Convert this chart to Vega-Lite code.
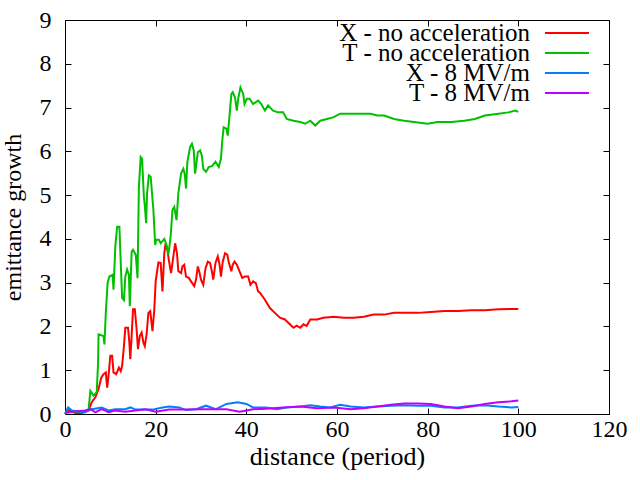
{
  "$schema": "https://vega.github.io/schema/vega-lite/v6.json",
  "width": 544,
  "height": 394,
  "autosize": "none",
  "padding": {"left": 65, "top": 20, "right": 31, "bottom": 66},
  "background": "white",
  "config": {
    "font": "Liberation Serif",
    "view": {"stroke": "#000000", "strokeWidth": 1},
    "axis": {
      "domain": false,
      "grid": false,
      "ticks": true,
      "tickColor": "#000000",
      "tickSize": 6,
      "tickWidth": 1,
      "offset": -6,
      "labelFlush": false,
      "labelFont": "Liberation Serif",
      "labelFontSize": 24,
      "labelColor": "#000000",
      "titleFont": "Liberation Serif",
      "titleFontWeight": "normal",
      "titleColor": "#000000"
    },
    "legend": {
      "orient": "none",
      "padding": 0,
      "direction": "vertical",
      "symbolType": "stroke",
      "symbolSize": 1936,
      "symbolStrokeWidth": 2,
      "labelAlign": "right",
      "labelOffset": -60,
      "labelFont": "Liberation Serif",
      "labelFontSize": 25,
      "labelColor": "#000000",
      "labelLimit": 0
    }
  },
  "data": {
    "values": [
      {"series": "X - no acceleration", "x": 0, "y": 0.0},
      {"series": "X - no acceleration", "x": 1, "y": 0.1},
      {"series": "X - no acceleration", "x": 1.5, "y": 0.05},
      {"series": "X - no acceleration", "x": 2.5, "y": 0.02},
      {"series": "X - no acceleration", "x": 4, "y": 0.03},
      {"series": "X - no acceleration", "x": 5.2, "y": 0.08},
      {"series": "X - no acceleration", "x": 5.9, "y": 0.27},
      {"series": "X - no acceleration", "x": 6.7, "y": 0.38},
      {"series": "X - no acceleration", "x": 7.4, "y": 0.57},
      {"series": "X - no acceleration", "x": 8.0, "y": 0.83},
      {"series": "X - no acceleration", "x": 8.5, "y": 0.91},
      {"series": "X - no acceleration", "x": 9.0, "y": 0.95},
      {"series": "X - no acceleration", "x": 9.3, "y": 0.6},
      {"series": "X - no acceleration", "x": 9.6, "y": 0.87},
      {"series": "X - no acceleration", "x": 10.0, "y": 1.33},
      {"series": "X - no acceleration", "x": 10.4, "y": 1.33},
      {"series": "X - no acceleration", "x": 10.7, "y": 0.95},
      {"series": "X - no acceleration", "x": 11.3, "y": 0.91},
      {"series": "X - no acceleration", "x": 11.9, "y": 1.06},
      {"series": "X - no acceleration", "x": 12.3, "y": 0.98},
      {"series": "X - no acceleration", "x": 12.6, "y": 1.1},
      {"series": "X - no acceleration", "x": 13.0, "y": 1.55},
      {"series": "X - no acceleration", "x": 13.3, "y": 1.97},
      {"series": "X - no acceleration", "x": 13.9, "y": 1.97},
      {"series": "X - no acceleration", "x": 14.2, "y": 1.63},
      {"series": "X - no acceleration", "x": 14.4, "y": 1.25},
      {"series": "X - no acceleration", "x": 14.7, "y": 1.78},
      {"series": "X - no acceleration", "x": 15.0, "y": 2.39},
      {"series": "X - no acceleration", "x": 15.4, "y": 2.39},
      {"series": "X - no acceleration", "x": 15.8, "y": 1.93},
      {"series": "X - no acceleration", "x": 16.1, "y": 1.48},
      {"series": "X - no acceleration", "x": 16.5, "y": 1.78},
      {"series": "X - no acceleration", "x": 16.9, "y": 1.86},
      {"series": "X - no acceleration", "x": 17.3, "y": 1.63},
      {"series": "X - no acceleration", "x": 17.6, "y": 1.55},
      {"series": "X - no acceleration", "x": 18.0, "y": 1.82},
      {"series": "X - no acceleration", "x": 18.4, "y": 2.31},
      {"series": "X - no acceleration", "x": 18.8, "y": 2.35},
      {"series": "X - no acceleration", "x": 19.3, "y": 1.89},
      {"series": "X - no acceleration", "x": 19.7, "y": 2.39},
      {"series": "X - no acceleration", "x": 20.0, "y": 3.03},
      {"series": "X - no acceleration", "x": 20.6, "y": 3.46},
      {"series": "X - no acceleration", "x": 21.1, "y": 3.45},
      {"series": "X - no acceleration", "x": 21.5, "y": 2.8},
      {"series": "X - no acceleration", "x": 21.9, "y": 3.67},
      {"series": "X - no acceleration", "x": 22.2, "y": 3.9},
      {"series": "X - no acceleration", "x": 22.6, "y": 3.75},
      {"series": "X - no acceleration", "x": 22.9, "y": 3.52},
      {"series": "X - no acceleration", "x": 23.4, "y": 3.22},
      {"series": "X - no acceleration", "x": 23.9, "y": 3.6},
      {"series": "X - no acceleration", "x": 24.3, "y": 3.9},
      {"series": "X - no acceleration", "x": 24.7, "y": 3.67},
      {"series": "X - no acceleration", "x": 25.0, "y": 3.26},
      {"series": "X - no acceleration", "x": 25.6, "y": 3.22},
      {"series": "X - no acceleration", "x": 25.9, "y": 3.37},
      {"series": "X - no acceleration", "x": 26.3, "y": 3.41},
      {"series": "X - no acceleration", "x": 26.7, "y": 3.14},
      {"series": "X - no acceleration", "x": 27.3, "y": 3.11},
      {"series": "X - no acceleration", "x": 27.8, "y": 3.03},
      {"series": "X - no acceleration", "x": 28.5, "y": 2.92},
      {"series": "X - no acceleration", "x": 28.9, "y": 3.07},
      {"series": "X - no acceleration", "x": 29.3, "y": 3.37},
      {"series": "X - no acceleration", "x": 29.6, "y": 3.26},
      {"series": "X - no acceleration", "x": 30.0, "y": 3.07},
      {"series": "X - no acceleration", "x": 30.5, "y": 2.95},
      {"series": "X - no acceleration", "x": 31.0, "y": 3.33},
      {"series": "X - no acceleration", "x": 31.5, "y": 3.48},
      {"series": "X - no acceleration", "x": 32.0, "y": 3.45},
      {"series": "X - no acceleration", "x": 32.4, "y": 3.26},
      {"series": "X - no acceleration", "x": 32.7, "y": 3.07},
      {"series": "X - no acceleration", "x": 33.2, "y": 3.45},
      {"series": "X - no acceleration", "x": 33.7, "y": 3.6},
      {"series": "X - no acceleration", "x": 34.1, "y": 3.41},
      {"series": "X - no acceleration", "x": 34.4, "y": 3.14},
      {"series": "X - no acceleration", "x": 34.8, "y": 3.48},
      {"series": "X - no acceleration", "x": 35.3, "y": 3.67},
      {"series": "X - no acceleration", "x": 35.8, "y": 3.64},
      {"series": "X - no acceleration", "x": 36.1, "y": 3.48},
      {"series": "X - no acceleration", "x": 36.7, "y": 3.26},
      {"series": "X - no acceleration", "x": 37.0, "y": 3.41},
      {"series": "X - no acceleration", "x": 37.4, "y": 3.48},
      {"series": "X - no acceleration", "x": 37.9, "y": 3.41},
      {"series": "X - no acceleration", "x": 38.5, "y": 3.26},
      {"series": "X - no acceleration", "x": 39.1, "y": 3.11},
      {"series": "X - no acceleration", "x": 39.7, "y": 3.14},
      {"series": "X - no acceleration", "x": 40.4, "y": 3.14},
      {"series": "X - no acceleration", "x": 40.9, "y": 2.95},
      {"series": "X - no acceleration", "x": 41.5, "y": 3.03},
      {"series": "X - no acceleration", "x": 42.1, "y": 2.99},
      {"series": "X - no acceleration", "x": 42.6, "y": 2.8},
      {"series": "X - no acceleration", "x": 43.0, "y": 2.77},
      {"series": "X - no acceleration", "x": 44.1, "y": 2.61},
      {"series": "X - no acceleration", "x": 45.2, "y": 2.42},
      {"series": "X - no acceleration", "x": 46.3, "y": 2.31},
      {"series": "X - no acceleration", "x": 47.4, "y": 2.2},
      {"series": "X - no acceleration", "x": 48.5, "y": 2.16},
      {"series": "X - no acceleration", "x": 49.6, "y": 2.05},
      {"series": "X - no acceleration", "x": 50.4, "y": 1.97},
      {"series": "X - no acceleration", "x": 51.1, "y": 2.02},
      {"series": "X - no acceleration", "x": 51.9, "y": 1.97},
      {"series": "X - no acceleration", "x": 52.6, "y": 2.05},
      {"series": "X - no acceleration", "x": 53.3, "y": 2.01},
      {"series": "X - no acceleration", "x": 54.1, "y": 2.16},
      {"series": "X - no acceleration", "x": 55.6, "y": 2.16},
      {"series": "X - no acceleration", "x": 57.0, "y": 2.2},
      {"series": "X - no acceleration", "x": 59.3, "y": 2.22},
      {"series": "X - no acceleration", "x": 61.5, "y": 2.2},
      {"series": "X - no acceleration", "x": 63.7, "y": 2.2},
      {"series": "X - no acceleration", "x": 65.9, "y": 2.22},
      {"series": "X - no acceleration", "x": 68.1, "y": 2.27},
      {"series": "X - no acceleration", "x": 70.4, "y": 2.27},
      {"series": "X - no acceleration", "x": 72.6, "y": 2.31},
      {"series": "X - no acceleration", "x": 74.8, "y": 2.31},
      {"series": "X - no acceleration", "x": 77.8, "y": 2.31},
      {"series": "X - no acceleration", "x": 80.7, "y": 2.33},
      {"series": "X - no acceleration", "x": 83.7, "y": 2.35},
      {"series": "X - no acceleration", "x": 86.7, "y": 2.35},
      {"series": "X - no acceleration", "x": 89.6, "y": 2.37},
      {"series": "X - no acceleration", "x": 92.6, "y": 2.37},
      {"series": "X - no acceleration", "x": 95.6, "y": 2.39},
      {"series": "X - no acceleration", "x": 98.5, "y": 2.4},
      {"series": "X - no acceleration", "x": 100, "y": 2.4},
      {"series": "T - no acceleration", "x": 0, "y": 0.02},
      {"series": "T - no acceleration", "x": 2, "y": 0.05},
      {"series": "T - no acceleration", "x": 4, "y": 0.05},
      {"series": "T - no acceleration", "x": 5.2, "y": 0.1},
      {"series": "T - no acceleration", "x": 5.6, "y": 0.53},
      {"series": "T - no acceleration", "x": 6.3, "y": 0.42},
      {"series": "T - no acceleration", "x": 7.0, "y": 0.5},
      {"series": "T - no acceleration", "x": 7.3, "y": 1.17},
      {"series": "T - no acceleration", "x": 7.4, "y": 1.82},
      {"series": "T - no acceleration", "x": 8.5, "y": 1.78},
      {"series": "T - no acceleration", "x": 8.7, "y": 1.59},
      {"series": "T - no acceleration", "x": 9.0, "y": 2.31},
      {"series": "T - no acceleration", "x": 9.4, "y": 3.0},
      {"series": "T - no acceleration", "x": 9.8, "y": 3.14},
      {"series": "T - no acceleration", "x": 10.5, "y": 3.18},
      {"series": "T - no acceleration", "x": 10.7, "y": 2.84},
      {"series": "T - no acceleration", "x": 11.1, "y": 3.83},
      {"series": "T - no acceleration", "x": 11.5, "y": 4.28},
      {"series": "T - no acceleration", "x": 12.0, "y": 4.28},
      {"series": "T - no acceleration", "x": 12.3, "y": 3.45},
      {"series": "T - no acceleration", "x": 12.6, "y": 2.65},
      {"series": "T - no acceleration", "x": 13.0, "y": 2.6},
      {"series": "T - no acceleration", "x": 13.3, "y": 3.14},
      {"series": "T - no acceleration", "x": 13.7, "y": 3.3},
      {"series": "T - no acceleration", "x": 14.1, "y": 3.18},
      {"series": "T - no acceleration", "x": 14.3, "y": 2.46},
      {"series": "T - no acceleration", "x": 14.7, "y": 3.71},
      {"series": "T - no acceleration", "x": 15.0, "y": 3.75},
      {"series": "T - no acceleration", "x": 15.6, "y": 3.64},
      {"series": "T - no acceleration", "x": 16.0, "y": 3.1},
      {"series": "T - no acceleration", "x": 16.3, "y": 5.19},
      {"series": "T - no acceleration", "x": 16.7, "y": 5.87},
      {"series": "T - no acceleration", "x": 17.0, "y": 5.83},
      {"series": "T - no acceleration", "x": 17.4, "y": 4.96},
      {"series": "T - no acceleration", "x": 17.6, "y": 4.77},
      {"series": "T - no acceleration", "x": 17.9, "y": 4.36},
      {"series": "T - no acceleration", "x": 18.1, "y": 5.04},
      {"series": "T - no acceleration", "x": 18.5, "y": 5.45},
      {"series": "T - no acceleration", "x": 18.9, "y": 5.42},
      {"series": "T - no acceleration", "x": 19.5, "y": 4.66},
      {"series": "T - no acceleration", "x": 19.9, "y": 3.86},
      {"series": "T - no acceleration", "x": 20.1, "y": 3.98},
      {"series": "T - no acceleration", "x": 20.7, "y": 3.98},
      {"series": "T - no acceleration", "x": 21.1, "y": 3.9},
      {"series": "T - no acceleration", "x": 21.9, "y": 4.0},
      {"series": "T - no acceleration", "x": 22.4, "y": 3.86},
      {"series": "T - no acceleration", "x": 22.8, "y": 3.64},
      {"series": "T - no acceleration", "x": 23.3, "y": 4.05},
      {"series": "T - no acceleration", "x": 23.7, "y": 4.66},
      {"series": "T - no acceleration", "x": 24.1, "y": 4.73},
      {"series": "T - no acceleration", "x": 24.6, "y": 4.43},
      {"series": "T - no acceleration", "x": 25.0, "y": 5.04},
      {"series": "T - no acceleration", "x": 25.6, "y": 5.49},
      {"series": "T - no acceleration", "x": 26.1, "y": 5.6},
      {"series": "T - no acceleration", "x": 26.4, "y": 5.49},
      {"series": "T - no acceleration", "x": 26.7, "y": 5.15},
      {"series": "T - no acceleration", "x": 27.0, "y": 5.76},
      {"series": "T - no acceleration", "x": 27.6, "y": 6.1},
      {"series": "T - no acceleration", "x": 28.0, "y": 6.17},
      {"series": "T - no acceleration", "x": 28.4, "y": 6.02},
      {"series": "T - no acceleration", "x": 28.7, "y": 5.49},
      {"series": "T - no acceleration", "x": 29.3, "y": 5.98},
      {"series": "T - no acceleration", "x": 29.8, "y": 6.02},
      {"series": "T - no acceleration", "x": 30.2, "y": 5.9},
      {"series": "T - no acceleration", "x": 30.5, "y": 5.6},
      {"series": "T - no acceleration", "x": 31.1, "y": 5.53},
      {"series": "T - no acceleration", "x": 31.7, "y": 5.64},
      {"series": "T - no acceleration", "x": 32.4, "y": 5.66},
      {"series": "T - no acceleration", "x": 33.2, "y": 5.76},
      {"series": "T - no acceleration", "x": 33.9, "y": 5.64},
      {"series": "T - no acceleration", "x": 34.4, "y": 5.83},
      {"series": "T - no acceleration", "x": 34.7, "y": 6.25},
      {"series": "T - no acceleration", "x": 35.0, "y": 6.55},
      {"series": "T - no acceleration", "x": 35.6, "y": 6.52},
      {"series": "T - no acceleration", "x": 35.9, "y": 6.36},
      {"series": "T - no acceleration", "x": 36.3, "y": 6.82},
      {"series": "T - no acceleration", "x": 36.7, "y": 7.31},
      {"series": "T - no acceleration", "x": 37.0, "y": 7.35},
      {"series": "T - no acceleration", "x": 37.5, "y": 7.23},
      {"series": "T - no acceleration", "x": 37.9, "y": 6.93},
      {"series": "T - no acceleration", "x": 38.2, "y": 7.2},
      {"series": "T - no acceleration", "x": 38.7, "y": 7.46},
      {"series": "T - no acceleration", "x": 39.3, "y": 7.31},
      {"series": "T - no acceleration", "x": 39.6, "y": 7.08},
      {"series": "T - no acceleration", "x": 40.1, "y": 7.2},
      {"series": "T - no acceleration", "x": 40.7, "y": 7.2},
      {"series": "T - no acceleration", "x": 41.5, "y": 7.08},
      {"series": "T - no acceleration", "x": 42.6, "y": 7.16},
      {"series": "T - no acceleration", "x": 43.3, "y": 7.08},
      {"series": "T - no acceleration", "x": 44.1, "y": 6.93},
      {"series": "T - no acceleration", "x": 44.8, "y": 7.05},
      {"series": "T - no acceleration", "x": 45.9, "y": 6.93},
      {"series": "T - no acceleration", "x": 47.0, "y": 6.89},
      {"series": "T - no acceleration", "x": 48.1, "y": 6.89},
      {"series": "T - no acceleration", "x": 48.9, "y": 6.74},
      {"series": "T - no acceleration", "x": 50.4, "y": 6.7},
      {"series": "T - no acceleration", "x": 51.9, "y": 6.67},
      {"series": "T - no acceleration", "x": 53.0, "y": 6.63},
      {"series": "T - no acceleration", "x": 54.1, "y": 6.7},
      {"series": "T - no acceleration", "x": 55.2, "y": 6.59},
      {"series": "T - no acceleration", "x": 56.3, "y": 6.7},
      {"series": "T - no acceleration", "x": 57.8, "y": 6.74},
      {"series": "T - no acceleration", "x": 59.3, "y": 6.78},
      {"series": "T - no acceleration", "x": 60.7, "y": 6.86},
      {"series": "T - no acceleration", "x": 63.0, "y": 6.86},
      {"series": "T - no acceleration", "x": 65.2, "y": 6.86},
      {"series": "T - no acceleration", "x": 67.4, "y": 6.86},
      {"series": "T - no acceleration", "x": 68.9, "y": 6.82},
      {"series": "T - no acceleration", "x": 70.4, "y": 6.82},
      {"series": "T - no acceleration", "x": 72.6, "y": 6.74},
      {"series": "T - no acceleration", "x": 74.8, "y": 6.7},
      {"series": "T - no acceleration", "x": 77.0, "y": 6.67},
      {"series": "T - no acceleration", "x": 80.0, "y": 6.63},
      {"series": "T - no acceleration", "x": 82.2, "y": 6.67},
      {"series": "T - no acceleration", "x": 85.2, "y": 6.67},
      {"series": "T - no acceleration", "x": 88.1, "y": 6.7},
      {"series": "T - no acceleration", "x": 90.4, "y": 6.74},
      {"series": "T - no acceleration", "x": 92.6, "y": 6.82},
      {"series": "T - no acceleration", "x": 95.6, "y": 6.86},
      {"series": "T - no acceleration", "x": 97.8, "y": 6.89},
      {"series": "T - no acceleration", "x": 99.3, "y": 6.93},
      {"series": "T - no acceleration", "x": 100, "y": 6.9},
      {"series": "X - 8 MV/m", "x": 0, "y": 0.0},
      {"series": "X - 8 MV/m", "x": 0.7, "y": 0.15},
      {"series": "X - 8 MV/m", "x": 1.5, "y": 0.08},
      {"series": "X - 8 MV/m", "x": 4.4, "y": 0.04},
      {"series": "X - 8 MV/m", "x": 5.9, "y": 0.11},
      {"series": "X - 8 MV/m", "x": 8.1, "y": 0.15},
      {"series": "X - 8 MV/m", "x": 9.6, "y": 0.08},
      {"series": "X - 8 MV/m", "x": 11.1, "y": 0.11},
      {"series": "X - 8 MV/m", "x": 13.3, "y": 0.11},
      {"series": "X - 8 MV/m", "x": 14.4, "y": 0.15},
      {"series": "X - 8 MV/m", "x": 15.6, "y": 0.1},
      {"series": "X - 8 MV/m", "x": 19.3, "y": 0.1},
      {"series": "X - 8 MV/m", "x": 21.5, "y": 0.15},
      {"series": "X - 8 MV/m", "x": 23.0, "y": 0.17},
      {"series": "X - 8 MV/m", "x": 25.2, "y": 0.15},
      {"series": "X - 8 MV/m", "x": 26.7, "y": 0.09},
      {"series": "X - 8 MV/m", "x": 28.9, "y": 0.11},
      {"series": "X - 8 MV/m", "x": 31.1, "y": 0.19},
      {"series": "X - 8 MV/m", "x": 33.3, "y": 0.11},
      {"series": "X - 8 MV/m", "x": 35.6, "y": 0.23},
      {"series": "X - 8 MV/m", "x": 38.1, "y": 0.27},
      {"series": "X - 8 MV/m", "x": 40.0, "y": 0.23},
      {"series": "X - 8 MV/m", "x": 41.5, "y": 0.15},
      {"series": "X - 8 MV/m", "x": 44.4, "y": 0.15},
      {"series": "X - 8 MV/m", "x": 46.7, "y": 0.11},
      {"series": "X - 8 MV/m", "x": 48.9, "y": 0.15},
      {"series": "X - 8 MV/m", "x": 51.9, "y": 0.17},
      {"series": "X - 8 MV/m", "x": 54.1, "y": 0.2},
      {"series": "X - 8 MV/m", "x": 56.3, "y": 0.17},
      {"series": "X - 8 MV/m", "x": 58.5, "y": 0.15},
      {"series": "X - 8 MV/m", "x": 60.7, "y": 0.21},
      {"series": "X - 8 MV/m", "x": 63.0, "y": 0.17},
      {"series": "X - 8 MV/m", "x": 65.9, "y": 0.15},
      {"series": "X - 8 MV/m", "x": 68.9, "y": 0.17},
      {"series": "X - 8 MV/m", "x": 71.9, "y": 0.19},
      {"series": "X - 8 MV/m", "x": 74.8, "y": 0.2},
      {"series": "X - 8 MV/m", "x": 77.8, "y": 0.19},
      {"series": "X - 8 MV/m", "x": 80.7, "y": 0.19},
      {"series": "X - 8 MV/m", "x": 83.7, "y": 0.15},
      {"series": "X - 8 MV/m", "x": 86.7, "y": 0.15},
      {"series": "X - 8 MV/m", "x": 89.6, "y": 0.19},
      {"series": "X - 8 MV/m", "x": 92.6, "y": 0.2},
      {"series": "X - 8 MV/m", "x": 95.6, "y": 0.17},
      {"series": "X - 8 MV/m", "x": 98.5, "y": 0.15},
      {"series": "X - 8 MV/m", "x": 100, "y": 0.16},
      {"series": "T - 8 MV/m", "x": 0, "y": 0.04},
      {"series": "T - 8 MV/m", "x": 1.5, "y": 0.05},
      {"series": "T - 8 MV/m", "x": 4.4, "y": 0.08},
      {"series": "T - 8 MV/m", "x": 5.6, "y": 0.11},
      {"series": "T - 8 MV/m", "x": 6.7, "y": 0.04},
      {"series": "T - 8 MV/m", "x": 8.1, "y": 0.11},
      {"series": "T - 8 MV/m", "x": 9.6, "y": 0.04},
      {"series": "T - 8 MV/m", "x": 11.1, "y": 0.08},
      {"series": "T - 8 MV/m", "x": 13.3, "y": 0.05},
      {"series": "T - 8 MV/m", "x": 15.6, "y": 0.08},
      {"series": "T - 8 MV/m", "x": 17.8, "y": 0.11},
      {"series": "T - 8 MV/m", "x": 20.0, "y": 0.05},
      {"series": "T - 8 MV/m", "x": 23.0, "y": 0.1},
      {"series": "T - 8 MV/m", "x": 26.7, "y": 0.1},
      {"series": "T - 8 MV/m", "x": 29.6, "y": 0.11},
      {"series": "T - 8 MV/m", "x": 33.3, "y": 0.11},
      {"series": "T - 8 MV/m", "x": 35.6, "y": 0.11},
      {"series": "T - 8 MV/m", "x": 38.5, "y": 0.05},
      {"series": "T - 8 MV/m", "x": 41.5, "y": 0.11},
      {"series": "T - 8 MV/m", "x": 44.4, "y": 0.12},
      {"series": "T - 8 MV/m", "x": 48.1, "y": 0.15},
      {"series": "T - 8 MV/m", "x": 51.9, "y": 0.17},
      {"series": "T - 8 MV/m", "x": 55.6, "y": 0.13},
      {"series": "T - 8 MV/m", "x": 59.3, "y": 0.15},
      {"series": "T - 8 MV/m", "x": 63.0, "y": 0.11},
      {"series": "T - 8 MV/m", "x": 65.9, "y": 0.13},
      {"series": "T - 8 MV/m", "x": 68.9, "y": 0.17},
      {"series": "T - 8 MV/m", "x": 71.9, "y": 0.21},
      {"series": "T - 8 MV/m", "x": 74.8, "y": 0.24},
      {"series": "T - 8 MV/m", "x": 77.8, "y": 0.24},
      {"series": "T - 8 MV/m", "x": 80.7, "y": 0.23},
      {"series": "T - 8 MV/m", "x": 83.7, "y": 0.17},
      {"series": "T - 8 MV/m", "x": 86.7, "y": 0.13},
      {"series": "T - 8 MV/m", "x": 89.6, "y": 0.17},
      {"series": "T - 8 MV/m", "x": 92.6, "y": 0.23},
      {"series": "T - 8 MV/m", "x": 95.6, "y": 0.27},
      {"series": "T - 8 MV/m", "x": 98.5, "y": 0.29},
      {"series": "T - 8 MV/m", "x": 100, "y": 0.31}
    ]
  },
  "resolve": {
    "scale": {"color": "independent"},
    "legend": {"color": "independent"},
    "axis": {"x": "independent", "y": "independent"}
  },
  "layer": [
    {
      "transform": [{"filter": {"field": "series", "equal": "X - no acceleration"}}],
      "mark": {"type": "line", "strokeWidth": 2},
      "encoding": {
        "x": {
          "field": "x",
          "type": "quantitative",
          "scale": {"domain": [0, 120], "nice": false, "zero": false},
          "axis": {"values": [0, 20, 40, 60, 80, 100, 120], "labelPadding": 3, "title": "distance (period)", "titleFontSize": 26, "titlePadding": 2}
        },
        "y": {
          "field": "y",
          "type": "quantitative",
          "scale": {"domain": [0, 9], "nice": false},
          "axis": {"values": [0, 1, 2, 3, 4, 5, 6, 7, 8, 9], "labelPadding": 14, "title": "emittance growth", "titleFontSize": 24, "titlePadding": 14}
        },
        "color": {
          "field": "series",
          "type": "nominal",
          "scale": {"domain": ["X - no acceleration"], "range": ["#ff0000"]},
          "legend": {"title": null, "legendX": 479, "legendY": -10}
        }
      }
    },
    {
      "transform": [{"filter": {"field": "series", "equal": "T - no acceleration"}}],
      "mark": {"type": "line", "strokeWidth": 2},
      "encoding": {
        "x": {"field": "x", "type": "quantitative", "axis": null},
        "y": {"field": "y", "type": "quantitative", "axis": null},
        "color": {
          "field": "series",
          "type": "nominal",
          "scale": {"domain": ["T - no acceleration"], "range": ["#00c000"]},
          "legend": {"title": null, "legendX": 479, "legendY": 10}
        }
      }
    },
    {
      "transform": [{"filter": {"field": "series", "equal": "X - 8 MV/m"}}],
      "mark": {"type": "line", "strokeWidth": 2},
      "encoding": {
        "x": {"field": "x", "type": "quantitative", "axis": null},
        "y": {"field": "y", "type": "quantitative", "axis": null},
        "color": {
          "field": "series",
          "type": "nominal",
          "scale": {"domain": ["X - 8 MV/m"], "range": ["#0080ff"]},
          "legend": {"title": null, "legendX": 479, "legendY": 30}
        }
      }
    },
    {
      "transform": [{"filter": {"field": "series", "equal": "T - 8 MV/m"}}],
      "mark": {"type": "line", "strokeWidth": 2},
      "encoding": {
        "x": {"field": "x", "type": "quantitative", "axis": null},
        "y": {"field": "y", "type": "quantitative", "axis": null},
        "color": {
          "field": "series",
          "type": "nominal",
          "scale": {"domain": ["T - 8 MV/m"], "range": ["#c000ff"]},
          "legend": {"title": null, "legendX": 479, "legendY": 50}
        }
      }
    },
    {
      "mark": {"type": "point", "opacity": 0},
      "encoding": {
        "x": {
          "field": "x",
          "type": "quantitative",
          "axis": {"orient": "top", "values": [0, 20, 40, 60, 80, 100, 120], "labels": false, "title": null}
        },
        "y": {
          "field": "y",
          "type": "quantitative",
          "axis": {"orient": "right", "values": [0, 1, 2, 3, 4, 5, 6, 7, 8, 9], "labels": false, "title": null}
        }
      }
    }
  ]
}
